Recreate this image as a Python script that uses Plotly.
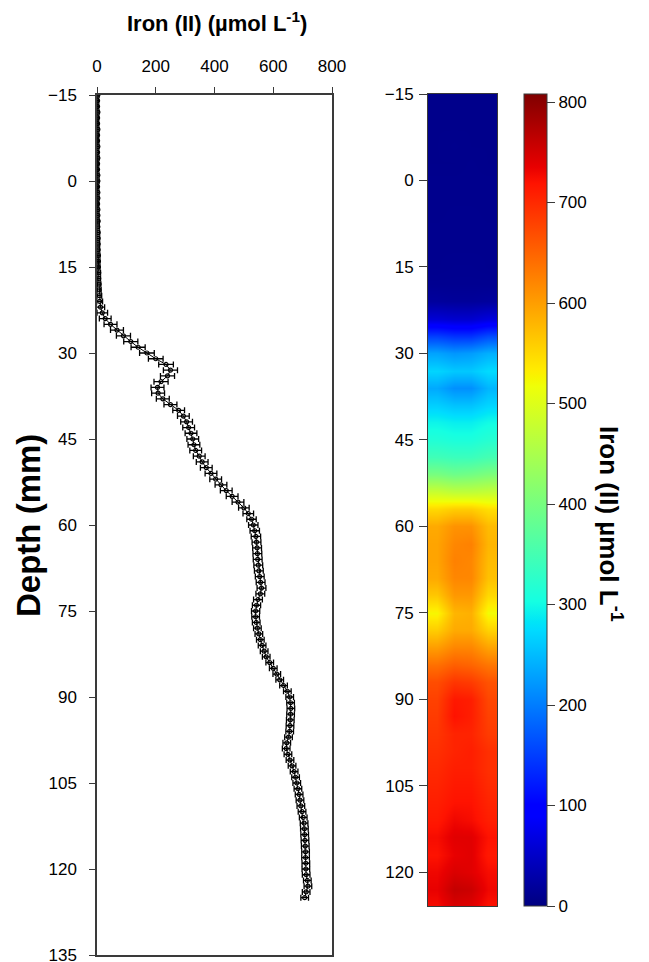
import plotly.graph_objects as go

# ---------------- data ----------------
depth_mm = list(range(-15, 126))  # profile depths, 1 mm spacing

iron_umol = [
    3, 2, 2, 3, 2, 2, 3, 2, 2, 3,
    2, 3, 2, 2, 3, 3, 2, 3, 3, 2,
    3, 3, 4, 3, 4, 4, 4, 4, 5, 5,
    5, 6, 6, 7, 7, 8, 9, 12, 18, 28,
    46, 68, 90, 115, 140, 170, 200, 235, 250, 240,
    218, 206, 208, 224, 250, 278, 294, 305, 312, 320,
    326, 330, 336, 348, 358, 372, 388, 404, 422, 440,
    460, 480, 500, 515, 526, 532, 537, 541, 543, 545,
    546, 547, 549, 551, 554, 557, 560, 556, 548, 543,
    540, 540, 542, 546, 551, 556, 562, 569, 576, 588,
    600, 612, 622, 635, 648, 656, 659, 660, 659, 658,
    657, 656, 652, 646, 644, 650, 657, 664, 671, 676,
    680, 684, 688, 691, 694, 698, 702, 705, 706, 707,
    708, 709, 710, 710, 711, 711, 712, 716, 718, 712,
    707,
]

iron_err = [
    4, 4, 4, 4, 4, 4, 4, 4, 4, 4,
    4, 4, 4, 4, 4, 4, 4, 4, 4, 4,
    4, 4, 4, 5, 5, 5, 5, 5, 5, 5,
    5, 6, 6, 6, 7, 8, 10, 14, 18, 20,
    22, 22, 24, 24, 24, 25, 25, 25, 24, 24,
    24, 22, 22, 22, 22, 20, 20, 20, 20, 20,
    20, 20, 20, 20, 20, 20, 20, 20, 20, 20,
    20, 20, 18, 18, 16, 16, 16, 16, 15, 15,
    15, 15, 15, 15, 15, 15, 15, 15, 15, 14,
    14, 13, 13, 13, 13, 13, 13, 13, 13, 13,
    13, 13, 13, 13, 13, 13, 13, 13, 13, 13,
    13, 13, 13, 13, 13, 13, 13, 13, 13, 13,
    13, 13, 13, 13, 13, 13, 13, 13, 13, 13,
    13, 13, 13, 13, 13, 13, 13, 13, 13, 13,
    13,
]

# 2-D image : rows = depth, columns = across the gel
image_depth_mm = [-15, -12, -9, -6, -3, 0, 3, 6, 9, 12, 15, 18, 21, 24, 27, 30,
                  33, 36, 39, 42, 45, 48, 51, 54, 57, 60, 63, 66, 69, 72, 75, 78,
                  81, 84, 87, 90, 93, 96, 99, 102, 105, 108, 111, 114, 117, 120, 123, 126]
image_column = [0, 1, 2, 3]
image_iron = [
    [8, 8, 8, 8], [8, 8, 8, 8], [8, 8, 8, 8], [8, 9, 8, 8],
    [8, 8, 9, 8], [9, 9, 9, 9], [9, 9, 9, 9], [9, 10, 10, 9],
    [10, 10, 10, 10], [10, 10, 10, 10], [10, 11, 11, 10], [12, 12, 12, 12],
    [20, 18, 18, 20], [60, 55, 55, 65], [150, 140, 140, 160], [230, 220, 225, 240],
    [270, 260, 260, 275], [235, 215, 215, 245], [265, 255, 255, 270], [295, 290, 290, 300],
    [315, 310, 310, 320], [345, 340, 340, 350], [400, 390, 395, 405], [480, 470, 470, 475],
    [550, 560, 560, 545], [590, 610, 610, 575], [595, 620, 625, 580], [595, 625, 620, 575],
    [590, 620, 620, 570], [565, 605, 605, 550], [525, 580, 585, 520], [560, 590, 590, 555],
    [600, 620, 620, 595], [640, 655, 650, 635], [670, 690, 685, 665], [680, 715, 710, 675],
    [685, 720, 710, 680], [690, 705, 705, 685], [695, 705, 710, 695], [700, 710, 710, 695],
    [705, 715, 715, 700], [710, 720, 720, 705], [715, 730, 725, 710], [725, 740, 740, 720],
    [720, 735, 740, 715], [730, 745, 740, 725], [735, 760, 755, 730], [725, 745, 740, 720],
]

profile_ticks = [-15, 0, 15, 30, 45, 60, 75, 90, 105, 120, 135]
image_ticks = [-15, 0, 15, 30, 45, 60, 75, 90, 105, 120]
conc_ticks = [0, 200, 400, 600, 800]
cbar_ticks = [0, 100, 200, 300, 400, 500, 600, 700, 800]

# ---------------- style ----------------
W, H = 649, 962
OFF = 8  # page body margin
FONT = "Liberation Sans, Arial, sans-serif"


def px_x(p):
    return (p - OFF) / W


def px_y(p):
    return 1 - (p - OFF) / H


# matplotlib-style "jet"
_jet = {
    "r": [(0, 0), (0.35, 0), (0.66, 1), (0.89, 1), (1, 0.5)],
    "g": [(0, 0), (0.125, 0), (0.375, 1), (0.64, 1), (0.91, 0), (1, 0)],
    "b": [(0, 0.5), (0.11, 1), (0.34, 1), (0.65, 0), (1, 0)],
}


def _seg(pts, t):
    for (x0, y0), (x1, y1) in zip(pts[:-1], pts[1:]):
        if x0 <= t <= x1:
            return y0 + (y1 - y0) * (t - x0) / (x1 - x0)
    return pts[-1][1]


_stops = [0, 0.11, 0.125, 0.34, 0.35, 0.375, 0.5, 0.64, 0.65, 0.66, 0.75, 0.89, 0.91, 1]
jet = [[t, "rgb(%d,%d,%d)" % tuple(round(255 * _seg(_jet[c], t)) for c in "rgb")] for t in _stops]

AX = dict(showgrid=False, zeroline=False, showline=True, mirror=True, automargin=False,
          linecolor="#3a3a3a", linewidth=1.5, ticks="outside", tickcolor="#3a3a3a",
          tickfont=dict(family=FONT, size=17, color="black"))

fig = go.Figure()

fig.add_trace(go.Scatter(
    x=iron_umol, y=depth_mm, mode="lines+markers",
    line=dict(color="black", width=1),
    marker=dict(symbol="circle-open", size=4, color="black", line=dict(width=1.2)),
    error_x=dict(type="data", array=iron_err, visible=True, color="black",
                 thickness=1.3, width=3),
    xaxis="x", yaxis="y", showlegend=False,
))

fig.add_trace(go.Heatmap(
    z=image_iron, x=image_column, y=image_depth_mm,
    colorscale=jet, zmin=0, zmax=808, zsmooth="best",
    xaxis="x2", yaxis="y2",
    colorbar=dict(
        x=px_x(524), xanchor="left", xpad=0, ypad=0,
        y=px_y(500), yanchor="middle", len=812 / H, lenmode="fraction",
        thickness=23, thicknessmode="pixels",
        outlinewidth=1, outlinecolor="#3a3a3a",
        tickvals=cbar_ticks, ticks="outside", ticklen=8, tickcolor="#3a3a3a",
        tickfont=dict(family=FONT, size=17, color="black"),
    ),
))

fig.update_layout(
    width=W, height=H,
    margin=dict(l=0, r=0, t=0, b=0),
    paper_bgcolor="white", plot_bgcolor="white",
    xaxis=dict(AX, domain=[px_x(97), px_x(332)], range=[0, 800], side="top",
               anchor="y", tickvals=conc_ticks, ticklen=6, ticklabelstandoff=8),
    yaxis=dict(AX, domain=[px_y(955), px_y(95)], range=[135, -15], anchor="x",
               tickvals=profile_ticks, ticklen=6, ticklabelstandoff=9),
    xaxis2=dict(AX, domain=[px_x(428), px_x(497)], range=[-0.5, 3.5], anchor="y2",
                showticklabels=False, ticks="", linewidth=1),
    yaxis2=dict(AX, domain=[px_y(906), px_y(94)], range=[125.9, -15], anchor="x2",
                tickvals=image_ticks, ticklen=8, ticklabelstandoff=2, linewidth=1),
    annotations=[
        dict(text="<b>Iron (II) (µmol L<sup>-1</sup>)</b>", x=px_x(217), y=px_y(22),
             xanchor="center", yanchor="middle",
             xref="paper", yref="paper", showarrow=False,
             font=dict(family=FONT, size=22, color="black")),
        dict(text="<b>Depth (mm)</b>", x=px_x(28), y=px_y(526), textangle=-90,
             xanchor="center", yanchor="middle",
             xref="paper", yref="paper", showarrow=False,
             font=dict(family=FONT, size=33, color="black")),
        dict(text="<b>Iron (II) µmol L<sup>-1</sup></b>", x=px_x(611), y=px_y(524),
             textangle=90, xanchor="center", yanchor="middle",
             xref="paper", yref="paper", showarrow=False,
             font=dict(family=FONT, size=26, color="black")),
    ],
)

fig.write_html("out.html")
